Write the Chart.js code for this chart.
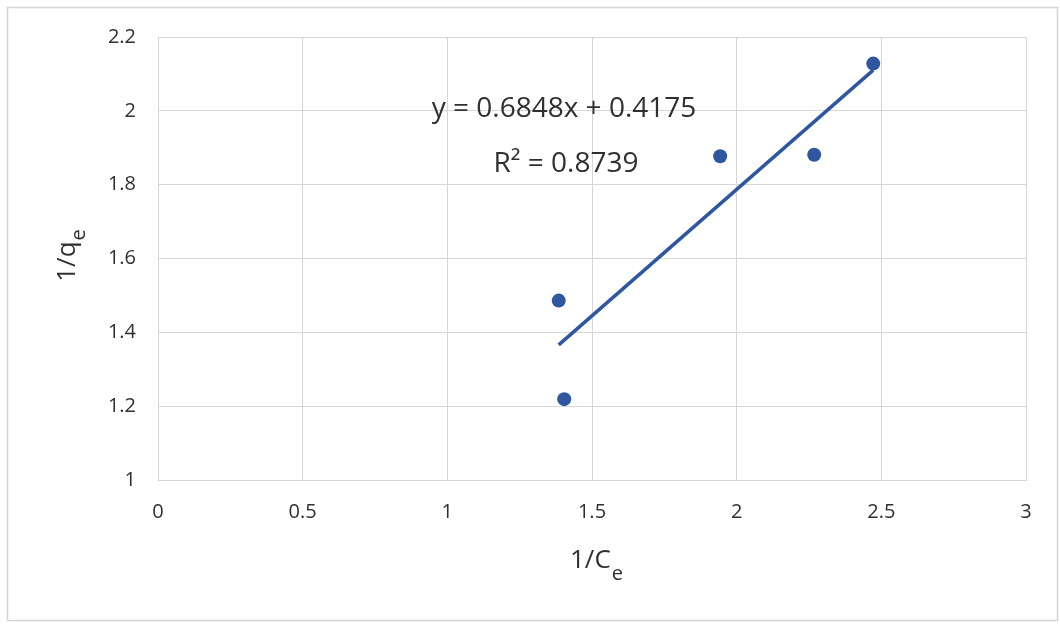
<!DOCTYPE html>
<html>
<head>
<meta charset="utf-8">
<script src="https://cdn.jsdelivr.net/npm/chart.js@4/dist/chart.umd.min.js"></script>
<style>
  html, body { margin: 0; padding: 0; background: #ffffff; }
  #wrap { position: relative; width: 1060px; height: 624px; }
</style>
</head>
<body>
<div id="wrap"><canvas id="c" width="1060" height="624"></canvas></div>
<script>
// ---- data ----
const invCe = [1.385, 1.404, 1.943, 2.268, 2.472];
const invQe = [1.486, 1.219, 1.877, 1.881, 2.128];
const trendSlope = 0.6848;
const trendIntercept = 0.4175;
const equationText = 'y = 0.6848x + 0.4175';
const r2Text = 'R² = 0.8739';
const xTicks = [0, 0.5, 1, 1.5, 2, 2.5, 3];
const yTicks = [1, 1.2, 1.4, 1.6, 1.8, 2, 2.2];
const xTitleMain = '1/C', xTitleSub = 'e';
const yTitleMain = '1/q', yTitleSub = 'e';

const FONT = '"Open Sans", "Noto Sans", sans-serif';
const BLUE = '#2E57A0';
const TEXT = '#303030';

const points = invCe.map((x, i) => ({ x: x, y: invQe[i] }));
const xMin = Math.min(...invCe), xMax = Math.max(...invCe);
const trend = [xMin, xMax].map(x => ({ x: x, y: trendSlope * x + trendIntercept }));

function drawSubTitle(ctx, main, sub, size, subSize, subDrop) {
  ctx.font = size + 'px ' + FONT;
  const wMain = ctx.measureText(main).width;
  ctx.font = subSize + 'px ' + FONT;
  const wSub = ctx.measureText(sub).width;
  const total = wMain + wSub;
  ctx.textBaseline = 'middle';
  ctx.textAlign = 'left';
  ctx.font = size + 'px ' + FONT;
  ctx.fillText(main, -total / 2, 0);
  ctx.font = subSize + 'px ' + FONT;
  ctx.fillText(sub, -total / 2 + wMain + 1, subDrop);
}

const decor = {
  id: 'decor',
  beforeDraw(chart) {
    const ctx = chart.ctx;
    ctx.save();
    ctx.fillStyle = '#ffffff';
    ctx.fillRect(0, 0, chart.width, chart.height);
    ctx.strokeStyle = '#d4d4d4';
    ctx.lineWidth = 1.5;
    ctx.strokeRect(7.5, 7.5, 1050, 613);
    ctx.restore();
  },
  afterDraw(chart) {
    const ctx = chart.ctx;
    ctx.save();
    ctx.fillStyle = TEXT;
    // axis titles
    ctx.save();
    ctx.translate(596, 561);
    drawSubTitle(ctx, xTitleMain, xTitleSub, 26, 20, 13);
    ctx.restore();
    ctx.save();
    ctx.translate(68, 256);
    ctx.rotate(-Math.PI / 2);
    drawSubTitle(ctx, yTitleMain, yTitleSub, 26, 20, 11);
    ctx.restore();
    // trendline label
    ctx.font = '28px ' + FONT;
    ctx.textAlign = 'center';
    ctx.textBaseline = 'middle';
    ctx.fillText(equationText, 564, 109);
    ctx.fillText(r2Text, 566, 164);
    ctx.restore();
  }
};

new Chart(document.getElementById('c'), {
  type: 'scatter',
  data: {
    datasets: [
      {
        label: 'trend',
        type: 'line',
        data: trend,
        borderColor: BLUE,
        borderWidth: 3.5,
        pointRadius: 0,
        fill: false,
        order: 2
      },
      {
        label: 'data',
        data: points,
        backgroundColor: BLUE,
        borderColor: BLUE,
        pointRadius: 7,
        pointBorderWidth: 0,
        order: 1
      }
    ]
  },
  options: {
    responsive: false,
    animation: false,
    devicePixelRatio: 1,
    layout: { padding: { left: 0, top: 37, right: 34, bottom: 0 } },
    plugins: { legend: { display: false }, tooltip: { enabled: false } },
    scales: {
      x: {
        type: 'linear',
        min: 0, max: 3,
        afterBuildTicks(s) { s.ticks = xTicks.map(v => ({ value: v })); },
        afterFit(s) { s.height = 144; },
        grid: { color: '#d6d6d6', lineWidth: 1, drawTicks: false },
        border: { display: true, color: '#d6d6d6' },
        ticks: {
          padding: 20,
          color: TEXT,
          font: { family: FONT, size: 20 },
          callback: v => String(v)
        }
      },
      y: {
        type: 'linear',
        min: 1, max: 2.2,
        afterBuildTicks(s) { s.ticks = yTicks.map(v => ({ value: v })); },
        afterFit(s) { s.width = 158; },
        grid: { color: '#d6d6d6', lineWidth: 1, drawTicks: false },
        border: { display: true, color: '#d6d6d6' },
        ticks: {
          padding: 22,
          color: TEXT,
          font: { family: FONT, size: 20 },
          callback: v => String(Math.round(v * 10) / 10)
        }
      }
    }
  },
  plugins: [decor]
});
</script>
</body>
</html>
